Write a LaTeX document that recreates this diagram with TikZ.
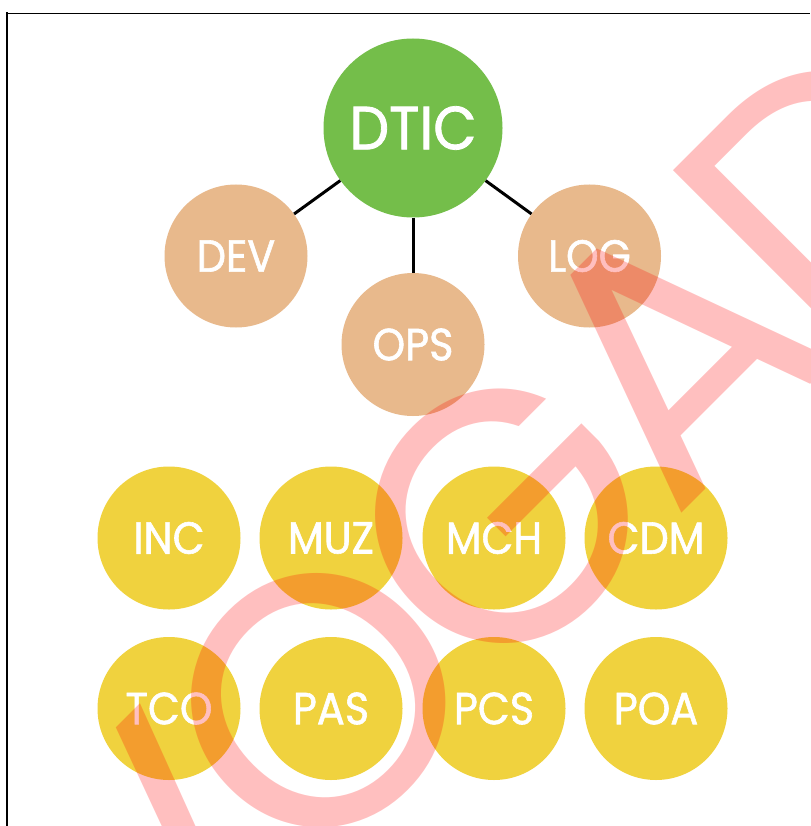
\documentclass[tikz,border=0pt]{standalone}
\usepackage{fontspec}
\newfontfamily\lblfont[FakeStretch=0.92,FakeBold=1.3]{Poppins}
\newfontfamily\wmfont[LetterSpace=-5.5]{Poppins}
\definecolor{topgreen}{RGB}{116,190,74}
\definecolor{peach}{RGB}{232,185,140}
\definecolor{gold}{RGB}{240,210,62}
\begin{document}
\begin{tikzpicture}[x=1pt,y=-1pt,
  bubble/.style={circle,inner sep=0pt,text=white,font=\lblfont\fontsize{45}{45}\selectfont},
  bigbubble/.style={bubble,fill=topgreen,minimum size=179pt,font=\lblfont\fontsize{61}{61}\selectfont},
  midbubble/.style={bubble,fill=peach,minimum size=143pt},
  unitbubble/.style={bubble,fill=gold,minimum size=143pt},
  link/.style={line width=3pt,black},
  watermark/.style={inner sep=0pt,text=red,text opacity=0.25,rotate=45,font=\wmfont\fontsize{356}{356}\selectfont}]
\useasboundingbox (0,0) rectangle (810,826);
\fill[white] (0,0) rectangle (810,826);
% frame lines
\coordinate (fr1) at (7,826);
\coordinate (fr2) at (7,12.5);
\coordinate (fr3) at (810,13.3);
\draw[line width=2pt] (fr1) -- (fr2);
\draw[line width=1.2pt] (6,13.3) -- (fr3);
% nodes
\node[bigbubble] (dtic) at (413,128) {DTIC};
\node[midbubble] (dev) at (236,256) {DEV};
\node[midbubble] (ops) at (413,344.5) {OPS};
\node[midbubble] (log) at (589.5,256) {LOG};
\draw[link] (dtic) -- (dev);
\draw[link] (dtic) -- (ops);
\draw[link] (dtic) -- (log);
\node[unitbubble] (inc) at (169,538) {INC};
\node[unitbubble] (muz) at (331,538) {MUZ};
\node[unitbubble] (mch) at (494,538) {MCH};
\node[unitbubble] (cdm) at (656,538) {CDM};
\node[unitbubble] (tco) at (169,708.5) {TCO};
\node[unitbubble] (pas) at (331,708.5) {PAS};
\node[unitbubble] (pcs) at (494,708.5) {PCS};
\node[unitbubble] (poa) at (656,708.5) {POA};
% watermark
\node[watermark] (wm) at (423,596) {ADVOGADO};
\end{tikzpicture}
\end{document}
